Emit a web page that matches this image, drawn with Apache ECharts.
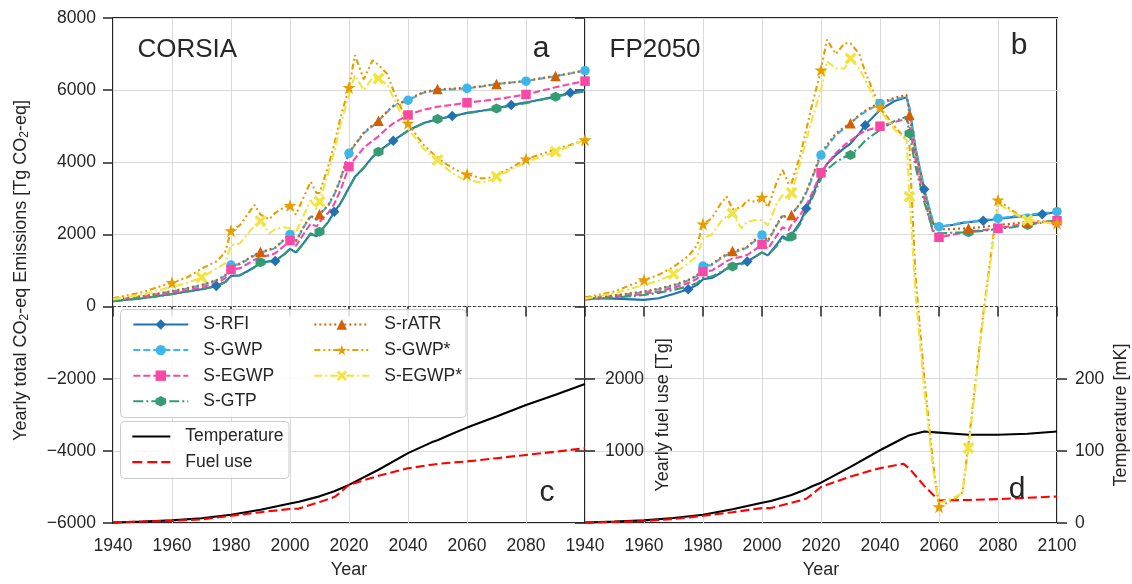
<!DOCTYPE html>
<html><head><meta charset="utf-8">
<script src="https://cdn.jsdelivr.net/npm/echarts@6/dist/echarts.min.js"></script>
<style>html,body{margin:0;padding:0;background:#fff}#c{width:1132px;height:584px}</style>
</head><body><div id="c"></div>
<script>
// ---------- DATA ----------
const YEARS = [1940,1950,1960,1965,1970,1975,1978,1980,1983,1986,1988,1990,1993,1995,1998,2000,2002,2005,2007,2009,2010,2013,2015,2017,2020,2022,2025,2028,2030,2033,2035,2040,2045,2049,2050,2052,2055,2058,2060,2065,2068,2070,2075,2080,2085,2090,2095,2100];

// Panel a: CORSIA  (Tg CO2-eq)
const A_RFI  = [150,230,350,420,480,570,680,850,870,1000,1100,1180,1260,1265,1450,1600,1500,1800,2030,1950,2050,2350,2630,2850,3300,3600,3850,4150,4300,4480,4600,4880,5080,5170,5200,5230,5280,5330,5370,5430,5470,5500,5585,5660,5740,5820,5925,6010];
const A_GWP  = [190,280,420,500,590,720,850,1150,1170,1320,1420,1500,1560,1620,1850,2000,1800,2250,2500,2400,2550,2800,3100,3500,4250,4480,4800,5000,5150,5400,5550,5720,5920,5990,6000,6010,6020,6040,6050,6100,6140,6170,6210,6250,6320,6390,6460,6540];
const A_EGWP = [170,250,380,450,530,650,780,1030,1060,1200,1300,1380,1420,1480,1680,1830,1680,2060,2300,2220,2350,2600,2850,3200,3880,4100,4400,4600,4720,4950,5080,5310,5450,5520,5540,5560,5590,5630,5650,5700,5730,5750,5810,5880,5980,6080,6170,6250];
const A_GTP  = [150,230,340,410,470,560,670,840,860,990,1090,1230,1250,1260,1440,1590,1490,1790,2020,1940,2075,2340,2610,2830,3280,3580,3840,4140,4290,4470,4590,4870,5070,5170,5200,5230,5270,5320,5360,5420,5460,5490,5570,5640,5730,5815,5900,5960];
const A_RATR = [200,290,430,510,600,730,860,1170,1190,1340,1440,1520,1580,1640,1870,2010,1820,2270,2520,2420,2560,2820,3120,3520,4270,4500,4820,5030,5150,5420,5570,5740,5940,6010,6030,6030,6040,6060,6070,6110,6150,6170,6210,6260,6330,6390,6470,6550];
const A_GWPS = [230,400,665,800,1050,1250,1500,2100,2250,2600,2820,2550,2420,2600,2750,2800,2550,3100,3460,3150,3150,3900,4500,5200,6075,6970,6300,6830,6700,6450,6000,5080,4500,4200,4150,4000,3850,3720,3670,3550,3580,3650,3850,4090,4220,4360,4480,4620];
const A_EGWPS= [200,330,550,650,810,1050,1200,1700,1750,2050,2250,2370,2030,2150,2200,2170,2050,2600,2950,2700,2910,3700,4300,5000,5860,6420,6000,6350,6320,6150,5800,4940,4400,4100,4060,3900,3700,3560,3510,3430,3500,3600,3800,4000,4150,4290,4450,4615];

// Panel b: FP2050  (Tg CO2-eq)
const B_RFI  = [230,220,185,230,350,480,600,760,790,930,1050,1150,1200,1250,1400,1500,1420,1720,1950,1850,1990,2350,2720,3050,3690,3950,4200,4400,4520,4800,5030,5450,5700,5800,5500,4400,3250,2300,2215,2270,2320,2340,2380,2430,2480,2520,2560,2620];
const B_GWP  = [240,300,400,480,580,720,850,1125,1150,1330,1430,1500,1560,1640,1850,1985,1800,2250,2520,2420,2560,2850,3150,3550,4200,4430,4750,4950,5080,5300,5400,5630,5750,5820,5500,4400,3250,2350,2215,2280,2330,2350,2400,2445,2500,2550,2590,2630];
const B_EGWP = [200,260,350,420,520,650,770,970,1000,1150,1260,1330,1380,1430,1600,1725,1600,1970,2200,2120,2260,2550,2800,3150,3710,3950,4250,4480,4600,4780,4870,5000,5120,5200,5000,4100,3000,2050,1920,2000,2050,2080,2120,2170,2240,2300,2340,2380];
const B_GTP  = [200,250,320,380,460,560,650,800,830,960,1050,1110,1170,1230,1400,1500,1420,1680,1900,1830,1940,2300,2650,3000,3550,3800,4000,4150,4200,4420,4600,4900,5150,5260,4800,3900,2900,2100,2030,2050,2055,2060,2100,2150,2200,2260,2330,2400];
const B_RATR = [250,310,420,500,600,740,870,1150,1180,1360,1460,1540,1590,1660,1880,2010,1830,2280,2540,2440,2540,2880,3180,3600,4250,4480,4800,4980,5080,5320,5430,5660,5790,5870,5310,4300,3150,2250,2140,2150,2165,2170,2210,2260,2300,2350,2360,2350];
const B_GWPS = [250,420,740,880,1100,1400,1700,2290,2450,2850,3050,2700,2750,2950,2900,3030,2750,3450,3785,3400,3415,4200,4900,5600,6555,7400,7000,7300,7300,7000,6500,5520,4990,4620,4450,890,-1980,-4350,-5550,-5350,-5150,-3800,-200,2955,2650,2400,2350,2310];
const B_EGWPS= [220,370,600,720,905,1200,1400,1890,2000,2350,2500,2585,2170,2350,2400,2400,2250,2850,3100,2950,3155,4000,4600,5200,6000,6800,6600,6600,6880,6600,6280,5445,4900,4615,3045,400,-2300,-4500,-5450,-5300,-5170,-3920,-300,2860,2600,2400,2340,2290];

// Lower panels c / d
const LOW_YEARS = [1940,1950,1960,1970,1980,1990,2000,2003,2010,2015,2017,2020,2030,2040,2048,2050,2055,2060,2070,2080,2090,2100];
const C_TEMP = [0.5,2,3.7,6.5,11.5,18.5,27,29.5,37,44,47.5,53,74,97,112,115,124,132.5,148,164,178,193];   // mK
const C_FUEL = [10,20,32,50,100,150,195,200,290,360,420,530,655,760,810,820,840,855,900,945,990,1040];     // Tg
const D_TEMP = [0.5,2,3.7,7,11.5,19,28,30.5,39,47,51,56,78,101,118,122,127,125.5,122.5,122.5,124,127];   // mK
const D_FUEL = [5,15,28,55,100,150,207,207,280,337,400,500,646,762,822,755,515,312,320,332,350,369];       // Tg

// Marker years
const M_RFI   = [1975,1995,2015,2035,2055,2075,2095];
const M_GWP   = [1980,2000,2020,2040,2060,2080,2100];
const M_EGWP  = [1980,2000,2020,2040,2060,2080,2100];
const M_GTP   = [1990,2010,2030,2050,2070,2090];
const M_RATR  = [1990,2010,2030,2050,2070,2090];
const M_GWPS  = [1960,1980,2000,2020,2040,2060,2080,2100];
const M_EGWPS = [1970,1990,2010,2030,2050,2070,2090];

const NAMES = ['S-RFI','S-GWP','S-EGWP','S-GTP','S-rATR','S-GWP*','S-EGWP*'];
const X_TICKS = {min:1940, max:2100, step:20};
const Y_TICKS = {min:-6000, max:8000, step:2000};

// ---------- STYLE ----------
const FONT = "'Liberation Sans', Arial, sans-serif";
const TXT = '#262626';
const SPINE = '#262626';
const STAR = 'path://M50,0L61.8,35.3L99,35.3L68.9,57.1L80.3,92.7L50,70.9L19.7,92.7L31.1,57.1L1,35.3L38.2,35.3Z';
const HEX  = 'path://M50,0L93.3,25L93.3,75L50,100L6.7,75L6.7,25Z';
const XMK  = 'path://M20,0L50,30L80,0L100,20L70,50L100,80L80,100L50,70L20,100L0,80L30,50L0,20Z';
const STY = [
  {color:'#2271B2', dash:'solid',            symbol:'diamond',  size:10.5, marks:M_RFI},
  {color:'#3DB7E9', dash:[7,3],              symbol:'circle',   size:9.5,  marks:M_GWP},
  {color:'#F748A5', dash:[7,3],              symbol:'rect',     size:9.5,  marks:M_EGWP},
  {color:'#359B73', dash:[10,3,2,3],         symbol:HEX,        size:10,   marks:M_GTP},
  {color:'#D55E00', dash:[2,3],              symbol:'triangle', size:10.5, marks:M_RATR},
  {color:'#E69F00', dash:[6,3,2,3,2,3],      symbol:STAR,       size:13,   marks:M_GWPS},
  {color:'#F0E442', dash:[8,3,2,3],          symbol:XMK,        size:12,   marks:M_EGWPS}
];

const L = 113, W = 472, R2 = 585, TOP = 18, BOT = 61, INS_TOP = 307;

function pairs(xs, ys){ return xs.map((x,i)=>[x, ys[i]]); }
function mainSeries(i, vals, xi, yi, withZero){
  const s = STY[i];
  const o = {
    type:'line', name:NAMES[i], xAxisIndex:xi, yAxisIndex:yi,
    data: pairs(YEARS, vals),
    symbol: s.symbol, showAllSymbol:true,
    symbolSize: v => s.marks.includes(v[0]) ? s.size : 0,
    lineStyle:{color:s.color, width:2.1, type:s.dash},
    itemStyle:{color:s.color},
    emphasis:{disabled:true}, silent:true
  };
  if (withZero) o.markLine = {silent:true, symbol:'none', label:{show:false},
      lineStyle:{color:'#333', width:0.9, type:[3,2]}, data:[{yAxis:0}]};
  return o;
}
function lowSeries(name, vals, xi, yi, color, dash){
  return {type:'line', name, xAxisIndex:xi, yAxisIndex:yi, data:pairs(LOW_YEARS, vals),
    symbol:'none', lineStyle:{color, width:2.1, type:dash}, itemStyle:{color},
    emphasis:{disabled:true}, silent:true};
}

const minusFmt = v => v < 0 ? '\u2212' + Math.abs(v) : String(v);
const lab = {fontFamily:FONT, fontSize:17.5, color:TXT};

const xMain = (gi, hideMax) => ({
  type:'value', gridIndex:gi, min:X_TICKS.min, max:X_TICKS.max, interval:X_TICKS.step,
  axisLine:{show:false}, axisTick:{show:true, length:10, lineStyle:{color:SPINE, width:1.5}},
  axisLabel:Object.assign({margin:14, showMaxLabel:!hideMax, formatter:v=>String(v)}, lab),
  splitLine:{show:true, lineStyle:{color:'#dadada', width:1}},
  name:'Year', nameLocation:'middle', nameGap:38,
  nameTextStyle:{fontFamily:FONT, fontSize:18, color:TXT}
});
const xHidden = gi => ({type:'value', gridIndex:gi, min:X_TICKS.min, max:X_TICKS.max, show:false});

const option = {
  animation:false,
  backgroundColor:'#ffffff',
  grid:[
    {left:L, width:W, top:TOP, bottom:BOT, show:true, borderColor:SPINE, borderWidth:2, backgroundColor:'transparent'},
    {left:R2, width:W, top:TOP, bottom:BOT, show:true, borderColor:SPINE, borderWidth:2, backgroundColor:'transparent'},
    {left:L, width:W, top:INS_TOP, bottom:BOT, show:false},
    {left:R2, width:W, top:INS_TOP, bottom:BOT, show:false}
  ],
  xAxis:[ xMain(0, true), xMain(1, false), xHidden(2), xHidden(3) ],
  yAxis:[
    {type:'value', gridIndex:0, min:Y_TICKS.min, max:Y_TICKS.max, interval:Y_TICKS.step,
     axisLine:{show:false}, axisTick:{show:true, length:10, lineStyle:{color:SPINE, width:1.5}},
     axisLabel:Object.assign({margin:17, formatter:minusFmt}, lab),
     splitLine:{show:true, lineStyle:{color:'#dadada', width:1}},
     name:'{t|Yearly total CO}{s|2}{t|-eq Emissions [Tg CO}{s|2}{t|-eq]}',
     nameLocation:'middle', nameGap:82,
     nameTextStyle:{rich:{
        t:{fontFamily:FONT, fontSize:18, color:TXT, lineHeight:20},
        s:{fontFamily:FONT, fontSize:12, color:TXT, lineHeight:6, verticalAlign:'bottom'}}}},
    {type:'value', gridIndex:1, min:Y_TICKS.min, max:Y_TICKS.max, interval:Y_TICKS.step,
     axisLine:{show:false}, axisTick:{show:true, length:10, lineStyle:{color:SPINE, width:1.5}},
     axisLabel:{show:false},
     splitLine:{show:true, lineStyle:{color:'#dadada', width:1}}},
    // left inset: fuel (left) and temperature (right)
    {type:'value', gridIndex:2, min:0, max:3000, interval:1000, position:'left',
     axisLine:{show:false}, axisTick:{show:false}, axisLabel:{show:false}, splitLine:{show:false}},
    {type:'value', gridIndex:2, min:0, max:300, interval:100, position:'right',
     axisLine:{show:false}, axisTick:{show:true, length:6, customValues:[100,200], lineStyle:{color:SPINE, width:1.5}},
     axisLabel:{show:false}, splitLine:{show:false}},
    // right inset: fuel (left, inside labels) and temperature (right)
    {type:'value', gridIndex:3, min:0, max:3000, interval:1000, position:'left',
     axisLine:{show:false},
     axisTick:{show:true, inside:true, length:10, customValues:[1000,2000], lineStyle:{color:SPINE, width:1.5}},
     axisLabel:Object.assign({inside:true, margin:20, formatter:v => (v===1000||v===2000)?String(v):''}, lab),
     splitLine:{show:false},
     name:'Yearly fuel use [Tg]', nameLocation:'middle', nameGap:-87,
     nameTextStyle:{fontFamily:FONT, fontSize:18, color:TXT}},
    {type:'value', gridIndex:3, min:0, max:300, interval:100, position:'right',
     axisLine:{show:false},
     axisTick:{show:true, length:10, customValues:[0,100,200], lineStyle:{color:SPINE, width:1.5}},
     axisLabel:Object.assign({margin:18, formatter:v => v===300?'':String(v)}, lab),
     splitLine:{show:false},
     name:'Temperature [mK]', nameLocation:'middle', nameGap:55,
     nameTextStyle:{fontFamily:FONT, fontSize:18, color:TXT}}
  ],
  legend:[
    {orient:'vertical', left:127.3, top:309.5, itemWidth:55, itemHeight:13, itemGap:5.6, z:60,
     selectedMode:false, data:NAMES.slice(0,4),
     textStyle:{fontFamily:FONT, fontSize:17.5, color:TXT, lineHeight:20, padding:[0,0,0,10]}},
    {orient:'vertical', left:308.3, top:309.5, itemWidth:55, itemHeight:13, itemGap:5.6, z:60,
     selectedMode:false, data:NAMES.slice(4),
     textStyle:{fontFamily:FONT, fontSize:17.5, color:TXT, lineHeight:20, padding:[0,0,0,10]}},
    {orient:'vertical', left:127.3, top:421.5, itemWidth:38, itemHeight:2.2, itemGap:5.7, z:60,
     selectedMode:false,
     data:[{name:'Temperature', icon:'path://M0,0h38v2.2h-38z'},
           {name:'Fuel use', icon:'path://M0,0h10v2.2h-10zM15,0h10v2.2h-10zM29,0h9v2.2h-9z'}],
     textStyle:{fontFamily:FONT, fontSize:17.5, color:TXT, lineHeight:20, padding:[0,0,0,10]}}
  ],
  graphic:[
    {type:'rect', z:50, shape:{x:120.5, y:309.5, width:345.5, height:108, r:4},
     style:{fill:'rgba(255,255,255,0.85)', stroke:'#cccccc', lineWidth:1}},
    {type:'rect', z:50, shape:{x:120.5, y:421.5, width:168.5, height:57, r:4},
     style:{fill:'rgba(255,255,255,0.85)', stroke:'#cccccc', lineWidth:1}},
    {type:'text', z:100, style:{text:'CORSIA', x:137.5, y:50, textVerticalAlign:'middle', font:"26px 'Liberation Sans', Arial, sans-serif", fill:TXT}},
    {type:'text', z:100, style:{text:'a', x:541, y:49, textAlign:'center', textVerticalAlign:'middle', font:"30px 'Liberation Sans', Arial, sans-serif", fill:TXT}},
    {type:'text', z:100, style:{text:'FP2050', x:609.5, y:50, textVerticalAlign:'middle', font:"26px 'Liberation Sans', Arial, sans-serif", fill:TXT}},
    {type:'text', z:100, style:{text:'b', x:1019, y:46, textAlign:'center', textVerticalAlign:'middle', font:"30px 'Liberation Sans', Arial, sans-serif", fill:TXT}},
    {type:'text', z:100, style:{text:'c', x:547, y:493, textAlign:'center', textVerticalAlign:'middle', font:"30px 'Liberation Sans', Arial, sans-serif", fill:TXT}},
    {type:'text', z:100, style:{text:'d', x:1017, y:490, textAlign:'center', textVerticalAlign:'middle', font:"30px 'Liberation Sans', Arial, sans-serif", fill:TXT}}
  ],
  series:[
    lowSeries('Temperature', C_TEMP, 2, 3, '#000000', 'solid'),
    lowSeries('Fuel use',    C_FUEL, 2, 2, '#ff0000', [9,4]),
    lowSeries('Temperature', D_TEMP, 3, 5, '#000000', 'solid'),
    lowSeries('Fuel use',    D_FUEL, 3, 4, '#ff0000', [9,4]),
    mainSeries(0, A_RFI, 0, 0, true),
    mainSeries(1, A_GWP, 0, 0),
    mainSeries(2, A_EGWP, 0, 0),
    mainSeries(3, A_GTP, 0, 0),
    mainSeries(4, A_RATR, 0, 0),
    mainSeries(5, A_GWPS, 0, 0),
    mainSeries(6, A_EGWPS, 0, 0),
    mainSeries(0, B_RFI, 1, 1, true),
    mainSeries(1, B_GWP, 1, 1),
    mainSeries(2, B_EGWP, 1, 1),
    mainSeries(3, B_GTP, 1, 1),
    mainSeries(4, B_RATR, 1, 1),
    mainSeries(5, B_GWPS, 1, 1),
    mainSeries(6, B_EGWPS, 1, 1)
  ]
};
const chart = echarts.init(document.getElementById('c'), null, {renderer:'canvas'});
chart.setOption(option);
</script>
</body></html>
